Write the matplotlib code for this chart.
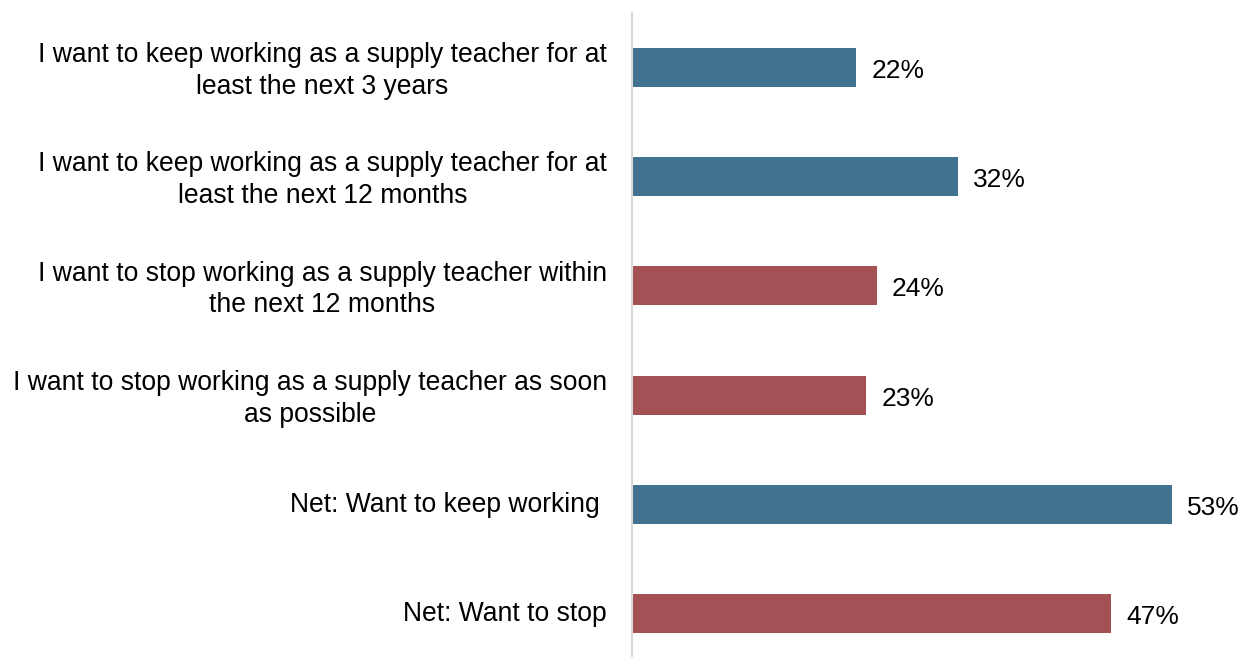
import matplotlib
matplotlib.use("Agg")
import matplotlib.pyplot as plt

plt.rcParams['font.family'] = ['Liberation Sans', 'DejaVu Sans']

categories = [
    "I want to keep working as a supply teacher for at\nleast the next 3 years",
    "I want to keep working as a supply teacher for at\nleast the next 12 months",
    "I want to stop working as a supply teacher within\nthe next 12 months",
    "I want to stop working as a supply teacher as soon\nas possible",
    "Net: Want to keep working ",
    "Net: Want to stop",
]
values = [22, 32, 24, 23, 53, 47]
groups = ["keep", "keep", "stop", "stop", "keep", "stop"]
palette = {"keep": "#41728F", "stop": "#A35154"}

W, H = 1249, 657
fig = plt.figure(figsize=(W / 100, H / 100), dpi=100)

# axes geometry in pixels
ax_left = 632
px_per_unit = 10.19
xmax = 60
slot = 109.2
first_center = 67.5
top = first_center - slot / 2
bottom = top + slot * len(categories)
ax = fig.add_axes([ax_left / W, 1 - bottom / H, xmax * px_per_unit / W, (bottom - top) / H])

y = list(range(len(categories)))
ax.barh(y, values, height=0.357, color=[palette[g] for g in groups])
ax.set_xlim(0, xmax)
ax.set_ylim(len(categories) - 0.5, -0.5)

for s in ["top", "right", "bottom"]:
    ax.spines[s].set_visible(False)
ax.spines["left"].set_color("#D9D9D9")
ax.spines["left"].set_linewidth(1.5)
ax.set_xticks([])
ax.set_yticks([])

# category labels, right-aligned to the left of the axis line
for yi, label in zip(y, categories):
    dy = -2.6 if "\n" in label else -0.3
    ax.annotate(label, xy=(0, yi), xytext=(-18, dy), textcoords="offset points",
                ha="right", va="center", multialignment="center",
                fontsize=19.1, linespacing=1.29, color="black", annotation_clip=False)

# value labels at the end of each bar
for yi, v in zip(y, values):
    ax.annotate(f"{v}%", xy=(v, yi), xytext=(11, -2.5), textcoords="offset points",
                va="center", ha="left", fontsize=19, color="black")

fig.savefig("out.png", dpi=100)
